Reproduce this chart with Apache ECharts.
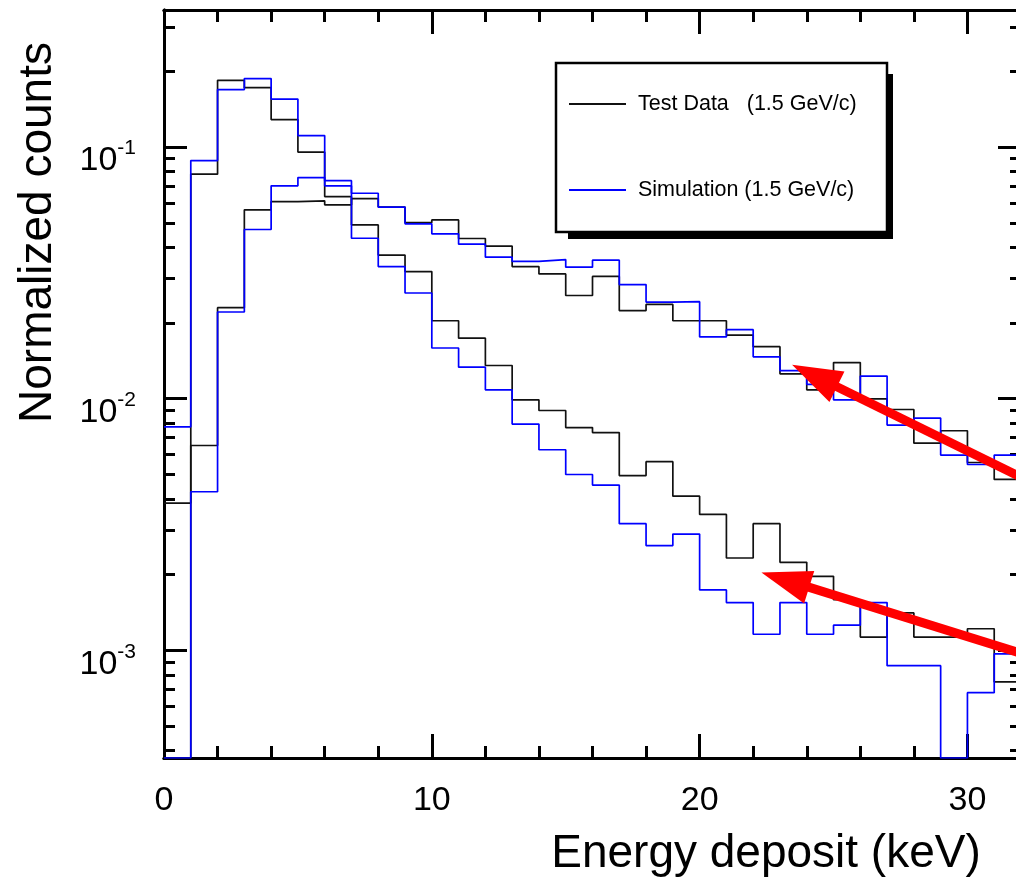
<!DOCTYPE html>
<html>
<head>
<meta charset="utf-8">
<script src="https://cdn.jsdelivr.net/npm/echarts@6/dist/echarts.min.js"></script>
<style>
  html, body { margin: 0; padding: 0; background: #fff; }
  #chart { width: 1016px; height: 886px; }
</style>
</head>
<body>
<div id="chart"></div>
<script>
// Energy-deposit histograms, 1 keV bins: lower edge of each bin (keV)
const binLow = [0, 1, 2, 3, 4, 5, 6, 7, 8, 9, 10, 11, 12, 13, 14, 15,
                16, 17, 18, 19, 20, 21, 22, 23, 24, 25, 26, 27, 28, 29, 30, 31];
const BIN_WIDTH = 1;

// Normalized counts per bin; 0 marks an empty bin
const testSharp = [0.00385, 0.0780, 0.184, 0.172, 0.1285, 0.0954, 0.0635, 0.0490,
                   0.0372, 0.0320, 0.0204, 0.0174, 0.01355, 0.00990, 0.00898, 0.00768,
                   0.00734, 0.00495, 0.00562, 0.00410, 0.00347, 0.00233, 0.00319, 0.00224,
                   0.00197, 0.00159, 0.00113, 0.00141, 0.00113, 0.00113, 0.00122, 0.00075];
const testBroad = [0, 0.00652, 0.0230, 0.0563, 0.0607, 0.0611, 0.0589, 0.0624,
                   0.0577, 0.0501, 0.0513, 0.0433, 0.0404, 0.0335, 0.0313, 0.0257,
                   0.0306, 0.0224, 0.0237, 0.0204, 0.0204, 0.0179, 0.0161, 0.01256,
                   0.01085, 0.01392, 0.00999, 0.00906, 0.00666, 0.00746, 0.00558, 0.00478];
const simSharp  = [0.00773, 0.0883, 0.169, 0.187, 0.155, 0.111, 0.0735, 0.0434,
                   0.0335, 0.0263, 0.0159, 0.01335, 0.01085, 0.00793, 0.00627, 0.00500,
                   0.00454, 0.00319, 0.00261, 0.00290, 0.00174, 0.00155, 0.00116, 0.00155,
                   0.00116, 0.00126, 0.00155, 0.00087, 0.00087, 0, 0.00068, 0.00097];
const simBroad  = [0, 0.00427, 0.0221, 0.0470, 0.0701, 0.0756, 0.0701, 0.0655,
                   0.0577, 0.0495, 0.0452, 0.0411, 0.0365, 0.0351, 0.0357, 0.0333,
                   0.0355, 0.0284, 0.0242, 0.0243, 0.0176, 0.0188, 0.01467, 0.01294,
                   0.0114, 0.00990, 0.0123, 0.00786, 0.00838, 0.00597, 0.00548, 0.00597];

// Axis ranges and tick positions
const X_MIN = 0, X_MAX = 32;
const Y_MIN = 3.74e-4, Y_MAX = 0.35;
const xMajorTicks = [0, 10, 20, 30];
const xMinorTicks = [0, 2, 4, 6, 8, 10, 12, 14, 16, 18, 20, 22, 24, 26, 28, 30];
const yMajorTicks = [0.001, 0.01, 0.1];
const yMinorTicks = [0.0004, 0.0005, 0.0006, 0.0007, 0.0008, 0.0009,
                     0.002, 0.003, 0.004, 0.005, 0.006, 0.007, 0.008, 0.009,
                     0.02, 0.03, 0.04, 0.05, 0.06, 0.07, 0.08, 0.09,
                     0.2, 0.3];

// Annotation arrows in data coordinates: tail -> head centre
const arrowNotes = [
  { from: [32, 0.00488], to: [24.29, 0.01233] },
  { from: [32, 0.000974], to: [23.20, 0.001907] }
];

const TEST_LABEL = 'Test Data   (1.5 GeV/c)';
const SIM_LABEL = 'Simulation (1.5 GeV/c)';

const SANS = "'Liberation Sans', Arial, sans-serif";

// Histogram outline: one point per bin lower edge plus the closing edge
function stepPoints(values) {
  const pts = binLow.map((x, i) => [x, Math.max(values[i], Y_MIN)]);
  pts.push([binLow[binLow.length - 1] + BIN_WIDTH, pts[pts.length - 1][1]]);
  return pts;
}

// Frame: every side is an axis line with inward ticks, kept at the grid edge
const frameLine = { show: true, onZero: false, lineStyle: { color: '#000', width: 3 } };

function xAxisDef(position, ticks, tickLen, labels) {
  return {
    type: 'value', position: position, min: X_MIN, max: X_MAX,
    axisLine: frameLine, splitLine: { show: false },
    axisTick: { show: true, inside: true, length: tickLen, customValues: ticks,
                lineStyle: { color: '#000', width: 3 } },
    axisLabel: labels ? {
      show: true, customValues: ticks, margin: 26,
      fontFamily: SANS, fontSize: 34, lineHeight: 34, color: '#000'
    } : { show: false }
  };
}

function yAxisDef(position, ticks, tickLen, labels) {
  return {
    type: 'log', logBase: 10, position: position, min: Y_MIN, max: Y_MAX,
    axisLine: frameLine, splitLine: { show: false }, minorTick: { show: false },
    axisTick: { show: true, inside: true, length: tickLen, customValues: ticks,
                lineStyle: { color: '#000', width: 3 } },
    axisLabel: labels ? {
      show: true, customValues: ticks, margin: 28,
      padding: [22, 0, 0, 0],
      formatter: v => '{b|10}{e|' + Math.round(Math.log10(v)) + '}',
      rich: {
        b: { fontFamily: SANS, fontSize: 34, lineHeight: 40, color: '#000', verticalAlign: 'bottom' },
        e: { fontFamily: SANS, fontSize: 21, lineHeight: 13, color: '#000', verticalAlign: 'top' }
      }
    } : { show: false }
  };
}

// Axis titles: the x title sits right of centre, the y title above centre
const xBottom = xAxisDef('bottom', xMajorTicks, 24, true);
xBottom.name = 'Energy deposit (keV)';
xBottom.nameLocation = 'middle';
xBottom.nameGap = 73;
xBottom.nameTextStyle = { fontFamily: SANS, fontSize: 46, lineHeight: 46, color: '#000',
                          verticalAlign: 'top', padding: [0, 0, 0, 347] };

const yLeft = yAxisDef('left', yMajorTicks, 23, true);
yLeft.name = 'Normalized counts';
yLeft.nameLocation = 'middle';
yLeft.nameRotate = 90;
yLeft.nameGap = 103;
yLeft.nameTextStyle = { fontFamily: SANS, fontSize: 46, lineHeight: 46, color: '#000',
                        padding: [0, 0, 0, 303] };

function histSeries(name, values, color) {
  return {
    type: 'line', name: name, step: 'end', data: stepPoints(values),
    showSymbol: false, symbol: 'none', silent: true, clip: true,
    color: color, lineStyle: { color: color, width: 1.7 },
    emphasis: { disabled: true }
  };
}

const sims = histSeries(SIM_LABEL, simSharp, '#0000ff');
sims.markLine = {
  silent: true, animation: false,
  symbol: ['none', 'triangle'],
  lineStyle: { color: '#ff0000', width: 9, type: 'solid', cap: 'butt' },
  label: { show: false },
  emphasis: { disabled: true },
  data: arrowNotes.map(a => [
    { coord: a.from, symbol: 'none' },
    { coord: a.to, symbol: 'triangle', symbolSize: [34, 50] }
  ])
};

const chart = echarts.init(document.getElementById('chart'), null, { renderer: 'canvas' });
chart.setOption({
  animation: false,
  backgroundColor: '#fff',
  grid: { left: 164, top: 10, width: 857, height: 748, containLabel: false, outerBoundsMode: 'none' },
  xAxis: [
    xBottom,
    xAxisDef('bottom', xMinorTicks, 12, false),
    xAxisDef('top', xMajorTicks, 24, false),
    xAxisDef('top', xMinorTicks, 12, false)
  ],
  yAxis: [
    yLeft,
    yAxisDef('left', yMinorTicks, 11, false),
    yAxisDef('right', yMajorTicks, 23, false),
    yAxisDef('right', yMinorTicks, 11, false)
  ],
  legend: {
    data: [TEST_LABEL, SIM_LABEL],
    orient: 'vertical', left: 569, top: 93, padding: 0,
    itemGap: 64, itemWidth: 57, itemHeight: 2, icon: 'rect',
    selectedMode: false, z: 10,
    textStyle: { fontFamily: SANS, fontSize: 21.5, lineHeight: 22, color: '#000',
                 padding: [0, 0, 0, 7] }
  },
  graphic: [
    { type: 'rect', z: 3, silent: true,
      shape: { x: 568, y: 74, width: 325, height: 165 }, style: { fill: '#000' } },
    { type: 'rect', z: 3, silent: true,
      shape: { x: 556, y: 63, width: 331, height: 169 },
      style: { fill: '#fff', stroke: '#000', lineWidth: 2.5 } }
  ],
  series: [
    histSeries(TEST_LABEL, testSharp, '#111'),
    histSeries(TEST_LABEL, testBroad, '#111'),
    histSeries(SIM_LABEL, simBroad, '#0000ff'),
    sims
  ]
});
</script>
</body>
</html>
